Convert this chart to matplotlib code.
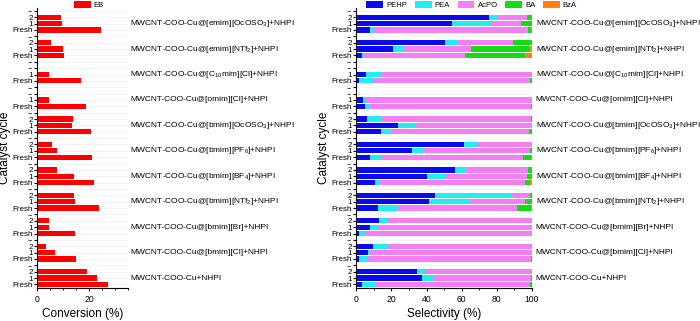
import matplotlib.pyplot as plt
from matplotlib.ticker import MultipleLocator

plt.rcParams['font.family'] = ['Liberation Sans', 'DejaVu Sans']
plt.rcParams['mathtext.fontset'] = 'custom'
plt.rcParams['mathtext.rm'] = 'Liberation Sans'
plt.rcParams['mathtext.it'] = 'Liberation Sans'

catalysts = [
    r'MWCNT-COO-Cu@[emim][OcOSO$_3$]+NHPI',
    r'MWCNT-COO-Cu@[emim][NTf$_2$]+NHPI',
    r'MWCNT-COO-Cu@[C$_{10}$mim][Cl]+NHPI',
    r'MWCNT-COO-Cu@[omim][Cl]+NHPI',
    r'MWCNT-COO-Cu@[bmim][OcOSO$_3$]+NHPI',
    r'MWCNT-COO-Cu@[bmim][PF$_6$]+NHPI',
    r'MWCNT-COO-Cu@[bmim][BF$_4$]+NHPI',
    r'MWCNT-COO-Cu@[bmim][NTf$_2$]+NHPI',
    r'MWCNT-COO-Cu@[bmim][Br]+NHPI',
    r'MWCNT-COO-Cu@[bmim][Cl]+NHPI',
    'MWCNT-COO-Cu+NHPI',
]
cycles = ['2', '1', 'Fresh']

# conversion of EB, per catalyst: [cycle 2, cycle 1, fresh]  (None = not run)
conversion = [
    [9.1, 9.7, 24.7],
    [5.3, 10.1, 10.4],
    [None, 4.5, 16.9],
    [None, 4.7, 18.8],
    [13.7, 13.5, 20.6],
    [5.9, 7.7, 21.0],
    [7.7, 14.1, 21.7],
    [14.2, 14.5, 23.9],
    [4.4, 4.5, 14.5],
    [3.3, 6.7, 14.9],
    [19.1, 23.0, 27.3],
]

products = ['PEHP', 'PEA', 'AcPO', 'BA', 'BzA']
prod_colors = ['#0A0AEE', '#22EEF0', '#F47EF4', '#12DD12', '#FF8010']

# selectivity (%) per catalyst, per cycle [2, 1, fresh]: PEHP, PEA, AcPO, BA, BzA
selectivity = [
    [[75.4, 4.9, 17.1, 2.6, 0], [54.4, 22.2, 17.2, 6.2, 0], [7.6, 2.6, 87.7, 1.3, 0.8]],
    [[50.3, 7.4, 31.7, 10.6, 0], [20.8, 6.0, 38.2, 33.1, 1.9], [3.4, 0.6, 58.0, 34.2, 3.8]],
    [None, [5.7, 9.2, 85.1, 0, 0], [1.7, 8.1, 89.1, 1.1, 0]],
    [None, [4.0, 0.7, 95.3, 0, 0], [4.7, 2.9, 91.8, 0.6, 0]],
    [[6.2, 8.2, 84.8, 0.8, 0], [24.0, 9.5, 66.5, 0, 0], [14.0, 6.4, 77.7, 1.9, 0]],
    [[61.4, 7.2, 31.4, 0, 0], [31.8, 6.0, 60.9, 1.3, 0], [7.6, 6.2, 81.1, 4.5, 0.6]],
    [[56.0, 6.2, 35.3, 2.5, 0], [40.5, 10.2, 46.7, 2.6, 0], [10.6, 2.8, 82.8, 2.7, 1.1]],
    [[44.6, 43.9, 10.2, 1.3, 0], [41.4, 22.9, 31.9, 3.8, 0], [12.3, 11.1, 68.1, 7.7, 0.8]],
    [[12.9, 4.7, 82.4, 0, 0], [7.8, 4.1, 88.1, 0, 0], [1.5, 3.4, 95.1, 0, 0]],
    [[9.3, 8.3, 82.4, 0, 0], [6.6, 1.0, 92.4, 0, 0], [1.3, 4.7, 93.2, 0.8, 0]],
    [[34.4, 4.9, 60.7, 0, 0], [37.2, 6.7, 55.3, 0.8, 0], [3.4, 7.9, 87.4, 1.3, 0]],
]

# slot layout: each catalyst gets 4 rows: separator, 2, 1, Fresh
ticks, labels = [], []
for g in range(len(catalysts)):
    ticks.append(4 * g)
    labels.append('--')
    for c in range(3):
        ticks.append(4 * g + 1 + c)
        if conversion[g][c] is None:
            labels.append('--')
        else:
            labels.append(cycles[c])

fig = plt.figure(figsize=(7, 3.21), dpi=100)
ax1 = fig.add_axes([0.053, 0.104, 0.130, 0.872])
ax2 = fig.add_axes([0.509, 0.104, 0.251, 0.872])

h = 0.82
# 左图: 转化率
for g in range(len(catalysts)):
    for c in range(3):
        v = conversion[g][c]
        if v is None:
            continue
        ax1.barh(4 * g + 1 + c, v, height=h, color='#FF0000',
                 label='EB' if (g == 0 and c == 0) else None, zorder=2)
ax1.set_xlim(0, 35)
ax1.xaxis.set_major_locator(MultipleLocator(20))
ax1.xaxis.set_minor_locator(MultipleLocator(5))
ax1.set_xlabel('Conversion (%)', fontsize=8.5, labelpad=3)

# 右图: 选择性 (堆叠)
for g in range(len(catalysts)):
    for c in range(3):
        vals = selectivity[g][c]
        if vals is None:
            continue
        left = 0
        for p in range(len(products)):
            ax2.barh(4 * g + 1 + c, vals[p], left=left, height=h,
                     color=prod_colors[p],
                     label=products[p] if (g == 0 and c == 0) else None, zorder=2)
            left += vals[p]
ax2.set_xlim(0, 100)
ax2.xaxis.set_major_locator(MultipleLocator(20))
ax2.xaxis.set_minor_locator(MultipleLocator(10))
ax2.set_xlabel('Selectivity (%)', fontsize=8.5, labelpad=3)

for ax in (ax1, ax2):
    ax.set_ylim(len(catalysts) * 4 - 0.5, -0.5)
    ax.set_yticks(ticks)
    ax.set_yticklabels(labels, fontsize=5.8)
    ax.tick_params(axis='y', length=2, pad=1)
    ax.tick_params(axis='x', labelsize=6.2, length=2.5, pad=3)
    ax.tick_params(axis='x', which='minor', length=1.5)
    ax.set_ylabel('Catalyst cycle', fontsize=8.5, labelpad=1)
    ax.spines['top'].set_visible(False)
    ax.spines['right'].set_visible(False)
    for t in ticks:
        ax.axhline(t, color='#EEEEEE', lw=0.5, zorder=0)
    for g, name in enumerate(catalysts):
        ax.text(1.02, 4 * g + 2, name, transform=ax.get_yaxis_transform(),
                ha='left', va='center', fontsize=6)

ax1.legend(loc='lower left', bbox_to_anchor=(0.37, 0.985), frameon=False,
           fontsize=5.5, handlelength=2.2, handleheight=1.1, borderaxespad=0,
           handletextpad=0.4)
ax2.legend(loc='lower left', bbox_to_anchor=(0.04, 0.985), ncol=5, frameon=False,
           fontsize=5.5, handlelength=2.2, handleheight=1.1, borderaxespad=0,
           handletextpad=0.4, columnspacing=1.0)

plt.savefig('out.png', dpi=100)
